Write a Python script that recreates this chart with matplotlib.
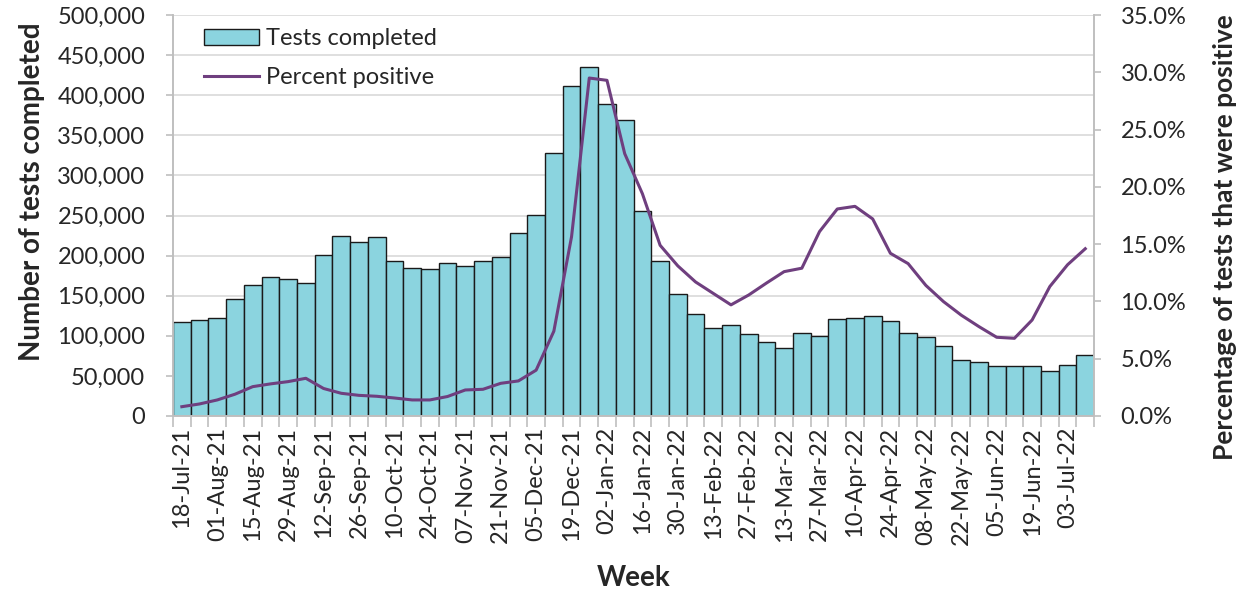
import matplotlib
matplotlib.use('Agg')
import matplotlib.pyplot as plt
import matplotlib.ticker as mticker
from matplotlib.patches import Patch
from matplotlib.lines import Line2D
import pandas as pd

plt.rcParams['font.family'] = ['Lato', 'DejaVu Sans']

weeks = [d.strftime('%d-%b-%y') for d in pd.date_range('2021-07-18', periods=52, freq='7D')]

tests = [117600, 119700, 122600, 145500, 163000, 173000, 170800, 165800, 201000, 225000,
         217000, 223000, 193000, 185000, 183700, 191000, 187000, 193000, 198000, 228600,
         250600, 327500, 412000, 434800, 388600, 369000, 256000, 193000, 151700, 127600,
         109700, 113500, 102700, 92700, 84400, 103900, 100000, 121000, 122600, 124300,
         118000, 103900, 98900, 87700, 69800, 66900, 61900, 62000, 62000, 55700,
         63600, 76500]

pct_positive = [0.81, 1.05, 1.4, 1.9, 2.56, 2.8, 3.0, 3.29, 2.4, 1.98,
                1.8, 1.72, 1.57, 1.4, 1.4, 1.7, 2.27, 2.33, 2.85, 3.06,
                4.0, 7.4, 15.65, 29.5, 29.3, 22.9, 19.4, 14.9, 13.1, 11.7,
                10.7, 9.7, 10.56, 11.6, 12.6, 12.9, 16.1, 18.07, 18.3, 17.2,
                14.2, 13.3, 11.4, 9.98, 8.8, 7.8, 6.87, 6.78, 8.38, 11.3,
                13.2, 14.6]

bar_color = '#8BD4DF'
line_color = '#6F3F7F'
grid_color = '#D9D9D9'
axis_color = '#BFBFBF'
text_color = '#262626'
tick_fs = 17
label_fs = 20

fig = plt.figure(figsize=(12.49, 5.94), dpi=100)
ax = fig.add_axes([0.1385, 0.2997, 0.7375, 0.675])
ax2 = ax.twinx()

x = list(range(len(weeks)))
ax.bar(x, tests, width=1.0, color=bar_color, edgecolor='#1a1a1a', linewidth=1.0, zorder=2)
ax2.plot(x, pct_positive, color=line_color, linewidth=2.2, zorder=3)

ax.set_xlim(-0.5, len(weeks) - 0.5)
ax.set_ylim(0, 500000)
ax2.set_ylim(0, 35)

ax.yaxis.set_major_locator(mticker.MultipleLocator(50000))
ax.yaxis.set_major_formatter(mticker.FuncFormatter(lambda v, p: f'{int(v):,}'))
ax2.yaxis.set_major_locator(mticker.MultipleLocator(5))
ax2.yaxis.set_major_formatter(mticker.FuncFormatter(lambda v, p: f'{v:.1f}%'))

ax.grid(axis='y', color=grid_color, linewidth=1.2, zorder=0)
ax.set_axisbelow(True)

ax.set_xticks(x[::2])
ax.set_xticklabels(weeks[::2], rotation=90, fontsize=tick_fs, color=text_color)
ax.set_xticks([i - 0.5 for i in range(len(weeks) + 1)], minor=True)
ax.tick_params(axis='x', which='major', length=0, pad=8)
ax.tick_params(axis='x', which='minor', length=8, color=axis_color, width=1.2)
ax.tick_params(axis='y', length=5, color=axis_color, labelsize=tick_fs, labelcolor=text_color, width=1.2, pad=15)
ax2.tick_params(axis='y', length=5, color=axis_color, labelsize=tick_fs, labelcolor=text_color, width=1.2, pad=14)

for a in (ax, ax2):
    a.spines['top'].set_visible(False)
    for s in ('left', 'right', 'bottom'):
        a.spines[s].set_color(axis_color)
        a.spines[s].set_linewidth(1.2)

ax.set_ylabel('Number of tests completed', fontsize=label_fs, fontweight='bold', color=text_color)
ax.yaxis.set_label_coords(-0.139, 0.56)
ax2.set_ylabel('Percentage of tests that were positive', fontsize=19, fontweight='bold', color=text_color)
ax2.yaxis.set_label_coords(1.129, 0.445)
ax.set_xlabel('Week', fontsize=label_fs, fontweight='bold', color=text_color, labelpad=14)

handles = [Patch(facecolor=bar_color, edgecolor='#1a1a1a', linewidth=1.0),
           Line2D([0], [0], color=line_color, linewidth=2.2)]
leg = ax.legend(handles, ['Tests completed', 'Percent positive'], loc='upper left',
                bbox_to_anchor=(0.011, 1.02), frameon=False, fontsize=tick_fs,
                handlelength=2.3, handleheight=0.7, labelspacing=0.75, handletextpad=0.3)
for t in leg.get_texts():
    t.set_color(text_color)

fig.savefig('out.png', dpi=100)
